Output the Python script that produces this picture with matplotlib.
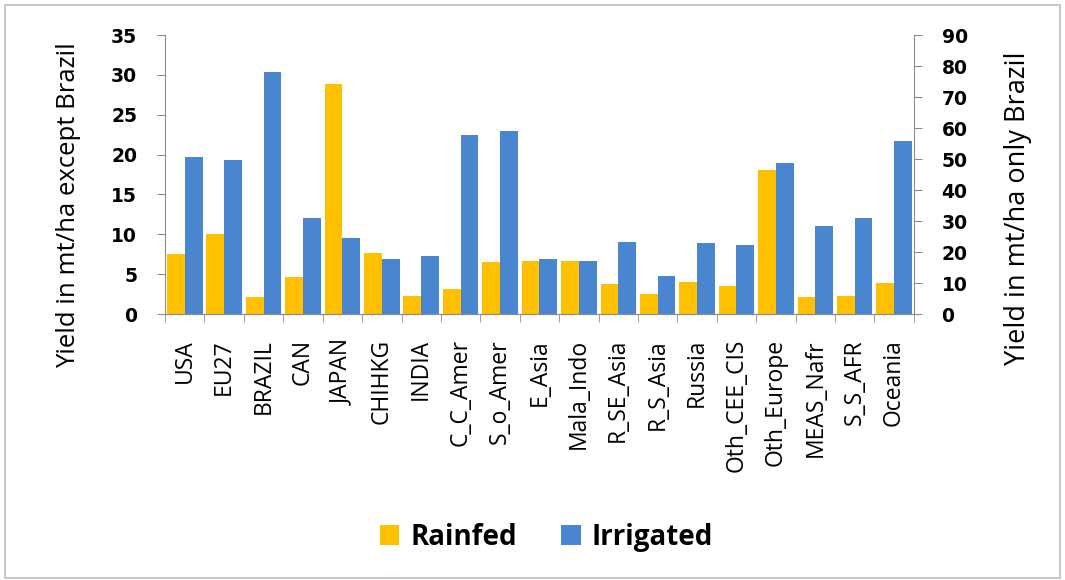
import numpy as np
import matplotlib.pyplot as plt
from matplotlib.patches import Rectangle

# DATA
regions = ['USA', 'EU27', 'BRAZIL', 'CAN', 'JAPAN', 'CHIHKG', 'INDIA', 'C_C_Amer',
           'S_o_Amer', 'E_Asia', 'Mala_Indo', 'R_SE_Asia', 'R_S_Asia', 'Russia',
           'Oth_CEE_CIS', 'Oth_Europe', 'MEAS_Nafr', 'S_S_AFR', 'Oceania']
# left axis units (mt/ha), Brazil entry is read on the right axis
rainfed = [7.5, 10.1, 5.5, 4.7, 28.9, 7.7, 2.25, 3.1, 6.5, 6.7, 6.7, 3.8, 2.5,
           4.0, 3.5, 18.1, 2.1, 2.3, 3.9]
irrigated = [19.7, 19.3, 78.2, 12.1, 9.5, 6.9, 7.3, 22.5, 22.9, 6.9, 6.7, 9.0,
             4.8, 8.9, 8.6, 18.9, 11.0, 12.0, 21.7]
right_axis_region = 'BRAZIL'

c_rain = '#FFC000'
c_irr = '#4A86D0'
grey = '#8C8C8C'

plt.rcParams['font.family'] = ['Open Sans', 'DejaVu Sans']

fig = plt.figure(figsize=(10.65, 5.8), dpi=100)
fig.patches.append(Rectangle((0.005, 0.004), 0.99, 0.988, transform=fig.transFigure,
                             fill=False, edgecolor='#BFBFBF', lw=1.2))

ax = fig.add_axes([0.155, 0.4586, 0.703, 0.481])
ax2 = ax.twinx()

x = np.arange(len(regions))
w = 0.45
is_right = np.array([r == right_axis_region for r in regions])
rain = np.array(rainfed)
irr = np.array(irrigated)

ax.bar(x[~is_right] - w / 2, rain[~is_right], w, color=c_rain, label='Rainfed')
ax.bar(x[~is_right] + w / 2, irr[~is_right], w, color=c_irr, label='Irrigated')
ax2.bar(x[is_right] - w / 2, rain[is_right], w, color=c_rain)
ax2.bar(x[is_right] + w / 2, irr[is_right], w, color=c_irr)

ax.set_xlim(-0.5, len(regions) - 0.5)
ax.set_ylim(0, 35)
ax2.set_ylim(0, 90)
ax.set_yticks(np.arange(0, 36, 5))
ax2.set_yticks(np.arange(0, 91, 10))

ax.set_xticks(x)
ax.set_xticklabels(regions, rotation=90, fontsize=16.5)
ax.set_xticks(np.arange(-0.5, len(regions)), minor=True)
ax.tick_params(axis='x', which='major', length=0, pad=18)
ax.tick_params(axis='x', which='minor', length=6, color=grey, direction='out')
ax.tick_params(axis='y', length=6, color=grey, pad=14)
ax2.tick_params(axis='y', length=6, color=grey, pad=14)
for lab in ax.get_yticklabels() + ax2.get_yticklabels():
    lab.set_fontweight('bold')
    lab.set_fontfamily('DejaVu Sans')
    lab.set_fontsize(13.5)

for a in (ax, ax2):
    a.spines['top'].set_visible(False)
    for s in ('left', 'right', 'bottom'):
        a.spines[s].set_color(grey)
ax.spines['right'].set_visible(False)
ax2.spines['left'].set_visible(False)

ax.set_ylabel('Yield in mt/ha except Brazil', fontsize=18.5)
ax.yaxis.set_label_coords(-0.112, 0.39)
ax2.set_ylabel('Yield in mt/ha only Brazil', fontsize=19.5)
ax2.yaxis.set_label_coords(1.121, 0.378)

fig.legend(loc='center', bbox_to_anchor=(0.513, 0.074), ncol=2, frameon=False,
           prop={'size': 20, 'weight': 'bold'}, handlelength=0.7, handleheight=0.7,
           columnspacing=1.6, handletextpad=0.4)

fig.savefig('out.png', dpi=100)
